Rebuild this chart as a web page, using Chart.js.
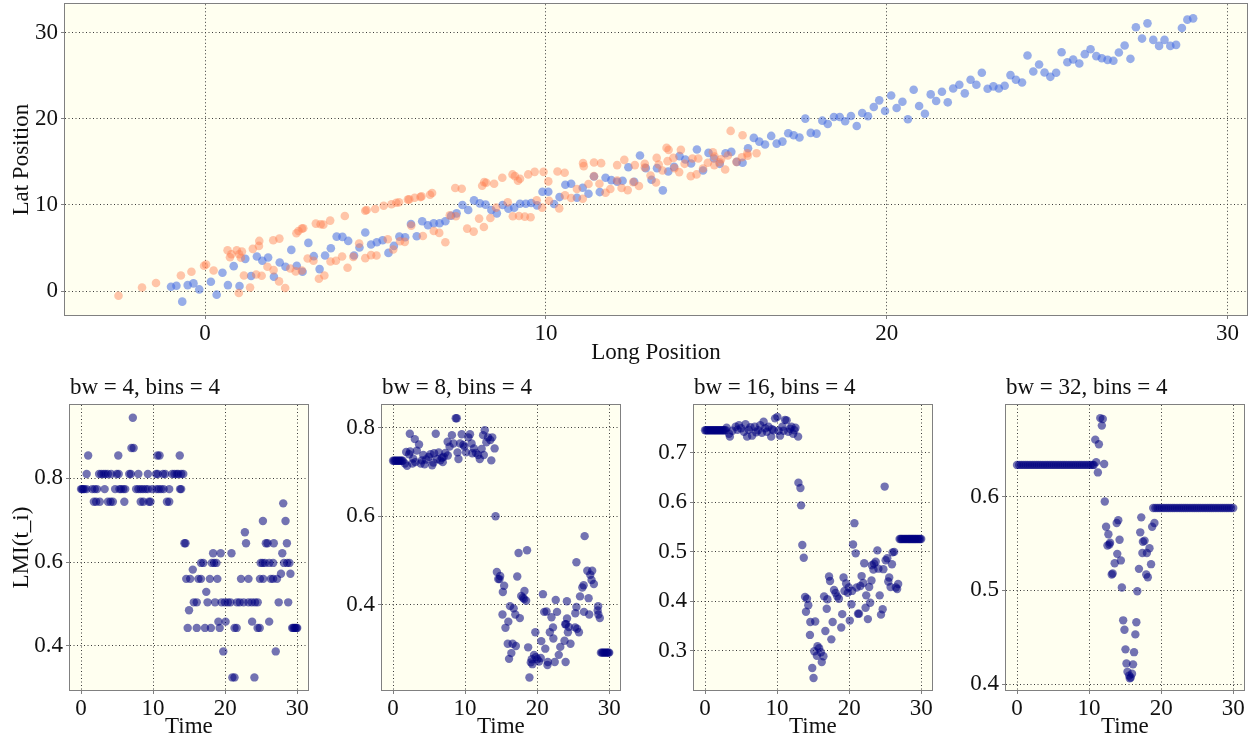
<!DOCTYPE html>
<html>
<head>
<meta charset="utf-8">
<script src="https://cdn.jsdelivr.net/npm/chart.js@4/dist/chart.umd.min.js"></script>
<style>
  html, body { margin: 0; padding: 0; background: #fff; }
  #wrap { position: relative; width: 1252px; height: 742px; overflow: hidden; }
  canvas { position: absolute; }
</style>
</head>
<body>
<div id="wrap">
  <canvas id="c-pos" width="1252" height="370" style="left:0;top:0"></canvas>
  <canvas id="c-bw4" width="312" height="372" style="left:0;top:370px"></canvas>
  <canvas id="c-bw8" width="312" height="372" style="left:312px;top:370px"></canvas>
  <canvas id="c-bw16" width="312" height="372" style="left:624px;top:370px"></canvas>
  <canvas id="c-bw32" width="312" height="372" style="left:936px;top:370px"></canvas>
</div>
<script>
// 上：两条轨迹的位置散点；下：不同 bw 下的 LMI(t_i) 随时间

const FONT = "'Liberation Serif', 'Times New Roman', serif";
const PLOT_BG = "#fffff0";
const FRAME = "#808080";
const GRID = "#3a3a3a";
const BLUE = "rgba(65,105,225,0.55)";
const SALMON = "rgba(255,127,80,0.45)";
const NAVY = "rgba(0,0,128,0.55)";

// ── 上图：位置 ──────────────────────────────────────────────
const posTicks = [0, 10, 20, 30];

const blueX = [
  -1.00, -0.84, -0.67, -0.51, -0.34, -0.17, 0.17, 0.34, 0.51, 0.67,
  0.84, 1.01, 1.18, 1.35, 1.52, 1.68, 1.85, 2.02, 2.19, 2.36,
  2.53, 2.69, 2.86, 3.03, 3.19, 3.36, 3.52, 3.69, 3.86, 4.03,
  4.20, 4.37, 4.53, 4.70, 4.87, 5.04, 5.21, 5.38, 5.54, 5.70,
  5.87, 6.04, 6.21, 6.37, 6.54, 6.71, 6.88, 7.05, 7.22, 7.38,
  7.55, 7.72, 7.89, 8.06, 8.23, 8.40, 8.56, 8.73, 8.90, 9.07,
  9.24, 9.41, 9.57, 9.74, 9.90, 10.07, 10.24, 10.40, 10.57, 10.74,
  10.91, 11.08, 11.25, 11.41, 11.58, 11.75, 11.92, 12.09, 12.25, 12.42,
  12.59, 12.76, 12.93, 13.10, 13.26, 13.43, 13.59, 13.76, 13.92, 14.09,
  14.26, 14.43, 14.61, 14.77, 14.93, 15.10, 15.27, 15.44, 15.60, 15.77,
  15.93, 16.10, 16.26, 16.43, 16.61, 16.77, 16.94, 17.11, 17.27, 17.44,
  17.61, 17.77, 17.94, 18.11, 18.27, 18.45, 18.62, 18.78, 18.95, 19.12,
  19.28, 19.45, 19.62, 19.78, 19.95, 20.13, 20.29, 20.46, 20.62, 20.79,
  20.95, 21.12, 21.29, 21.45, 21.62, 21.79, 21.95, 22.13, 22.29, 22.46,
  22.63, 22.79, 22.96, 23.13, 23.29, 23.46, 23.63, 23.79, 23.97, 24.13,
  24.30, 24.47, 24.63, 24.80, 24.97, 25.13, 25.30, 25.47, 25.65, 25.81,
  25.98, 26.15, 26.31, 26.48, 26.65, 26.81, 26.98, 27.15, 27.31, 27.49,
  27.65, 27.82, 27.99, 28.15, 28.32, 28.49, 28.66, 28.82, 28.99,
];
const blueY = [
  0.50, 0.62, -1.23, 0.69, 0.89, 0.19, 1.08, -0.42, 2.12, 0.69,
  2.89, 0.58, 3.74, 1.74, 4.01, 3.51, 3.90, 1.66, 3.32, 2.82,
  4.78, 2.93, 2.24, 5.59, 4.05, 2.55, 4.13, 4.97, 6.32, 6.29,
  5.82, 4.13, 5.05, 6.79, 5.40, 5.67, 5.90, 4.43, 5.24, 6.32,
  6.25, 7.79, 6.36, 8.10, 7.64, 7.87, 7.87, 8.10, 8.75, 9.02,
  9.99, 9.41, 10.53, 10.18, 10.03, 9.41, 9.02, 9.99, 9.56, 9.68,
  10.14, 10.14, 10.22, 9.95, 11.53, 11.53, 10.10, 10.91, 12.34, 12.46,
  10.84, 11.99, 11.30, 13.30, 11.49, 13.15, 12.88, 12.69, 12.80, 14.38,
  12.69, 15.73, 14.27, 12.92, 14.27, 11.69, 13.88, 14.42, 15.66, 15.27,
  14.81, 16.43, 14.00, 16.04, 15.39, 14.77, 16.00, 16.16, 15.00, 14.89,
  16.58, 17.78, 17.35, 17.01, 18.01, 17.12, 17.35, 18.32, 18.09, 17.82,
  20.02, 18.36, 18.28, 19.78, 19.40, 20.21, 20.21, 19.71, 20.32, 19.17,
  20.67, 20.29, 21.37, 22.14, 20.90, 22.71, 21.25, 21.98, 19.94, 23.37,
  21.48, 20.59, 22.83, 22.06, 23.14, 21.91, 23.52, 23.95, 22.95, 24.53,
  23.95, 25.34, 23.49, 23.76, 23.52, 23.83, 25.07, 24.53, 24.22, 27.34,
  25.49, 26.30, 25.38, 24.87, 25.34, 27.73, 26.57, 26.88, 26.42, 27.50,
  28.08, 27.27, 27.03, 26.84, 26.73, 27.69, 28.50, 26.96, 30.62, 29.31,
  31.08, 29.16, 28.46, 29.16, 28.46, 28.58, 30.54, 31.51, 31.66,
];

const salmonX = [
  -2.54, -1.85, -1.44, -0.71, -0.40, -0.03, 0.03, 0.25, 0.66, 0.73,
  0.77, 0.93, 1.00, 1.08, 1.05, 1.14, 0.99, 1.32, 1.40, 1.50,
  1.59, 1.58, 1.66, 1.83, 2.00, 2.01, 2.18, 2.17, 2.35, 2.50,
  2.66, 2.68, 2.74, 2.84, 2.88, 2.84, 3.01, 3.18, 3.25, 3.34,
  3.39, 3.47, 3.50, 3.67, 3.68, 3.84, 4.02, 4.10, 4.18, 4.35,
  4.52, 4.70, 4.70, 4.74, 4.87, 4.99, 5.03, 5.24, 5.36, 5.47,
  5.52, 5.61, 5.69, 5.72, 5.86, 5.95, 5.99, 6.05, 6.15, 6.32,
  6.35, 6.39, 6.60, 6.66, 6.71, 6.87, 7.05, 7.18, 7.36, 7.34,
  7.53, 7.69, 7.88, 8.04, 8.13, 8.19, 8.18, 8.25, 8.37, 8.48,
  8.54, 8.72, 8.88, 9.02, 9.09, 9.18, 9.24, 9.03, 9.21, 9.38,
  9.55, 9.48, 9.67, 9.73, 9.93, 9.89, 10.07, 10.09, 10.34, 10.39,
  10.55, 10.56, 10.74, 10.91, 11.08, 11.09, 11.11, 11.25, 11.41, 11.41,
  11.57, 11.62, 11.75, 11.89, 12.09, 12.09, 12.22, 12.30, 12.40, 12.56,
  12.61, 12.73, 12.90, 12.90, 13.07, 13.23, 13.25, 13.31, 13.42, 13.54,
  13.60, 13.57, 13.74, 13.77, 13.91, 13.96, 14.07, 14.25, 14.30, 14.42,
  14.47, 14.61, 14.75, 14.90, 14.95, 14.94, 15.10, 15.14, 15.26, 15.34,
  15.42, 15.59, 15.75, 15.77, 15.92, 15.91, 16.18,
];
const salmonY = [
  -0.54, 0.42, 0.93, 1.81, 2.24, 2.93, 3.09, 2.39, 4.74, 3.93,
  4.28, 4.74, 4.28, 4.59, 3.86, 1.81, -0.23, 0.42, 4.90, 1.93,
  5.82, 5.24, 1.77, 2.82, 5.90, 2.43, 6.09, 1.12, 0.35, 2.62,
  2.28, 6.71, 6.98, 7.25, 7.29, 2.39, 3.78, 3.51, 7.83, 1.43,
  7.75, 7.71, 1.81, 8.18, 3.43, 3.51, 4.01, 8.72, 2.70, 3.97,
  5.51, 9.33, 3.82, 9.41, 4.17, 9.53, 4.13, 9.91, 6.02, 10.07,
  4.82, 10.26, 10.30, 5.78, 5.71, 10.61, 10.64, 7.60, 10.84, 10.91,
  10.99, 6.40, 11.18, 11.38, 6.98, 6.75, 5.67, 8.79, 8.68, 11.96,
  11.88, 7.25, 6.90, 8.41, 12.23, 12.65, 7.44, 12.57, 8.48, 12.46,
  9.68, 13.15, 10.30, 13.54, 13.34, 12.80, 13.04, 8.68, 8.72, 8.64,
  8.56, 13.54, 13.84, 10.53, 13.84, 9.68, 12.73, 10.49, 13.88, 9.60,
  13.73, 11.11, 10.80, 11.84, 10.72, 14.85, 14.50, 12.42, 14.92, 13.34,
  12.46, 14.85, 11.42, 11.84, 14.62, 12.84, 11.96, 15.23, 11.72, 12.65,
  14.62, 12.19, 14.77, 14.35, 13.42, 12.61, 15.46, 14.69, 14.00, 16.62,
  16.39, 15.08, 15.46, 14.27, 13.81, 16.39, 14.77, 13.34, 15.39, 13.54,
  15.39, 14.23, 14.89, 16.12, 15.62, 14.62, 14.96, 15.31, 14.11, 15.73,
  18.59, 15.00, 15.54, 18.09, 15.70, 16.00, 16.00,
];

// ── 下图：LMI(t_i) ──────────────────────────────────────────
const timeTicks = [0, 10, 20, 30];

// bw = 4：取值是离散的几档
const bw4Levels = [0.944, 0.872, 0.854, 0.810, 0.774, 0.744,
  0.740, 0.698, 0.671, 0.645, 0.621, 0.598, 0.582, 0.572, 0.560,
  0.529, 0.504, 0.485, 0.458, 0.443, 0.387, 0.325];
const bw4Times = [
  [7.19],
  [7.0, 7.3],
  [0.99, 5.17, 10.6, 10.9, 13.7],
  [0.78, 2.51, 2.82, 3.14, 3.41, 3.73, 4.19, 4.96, 5.23, 6.69, 6.92, 7.96, 9.28, 10.42, 10.65, 11.37, 11.69, 12.65, 12.96, 13.28, 13.5, 13.9, 14.19],
  [0, 0.15, 0.3, 0.46, 0.78, 1.55, 1.91, 2.23, 3.28, 4.73, 5.33, 5.55, 5.87, 6.14, 7.64, 7.96, 8.28, 8.6, 8.96, 9.28, 9.87, 10.46, 10.78, 11.1, 11.46, 12.24, 13.74, 13.9],
  [1.78, 2.1, 2.6, 3.73, 4.1, 4.42, 6.01, 8.28, 8.65, 9.42, 9.64, 11.92, 12.24],
  [28.06],
  [25.24, 28.38],
  [22.74],
  [14.35, 14.5, 22.9, 25.65, 25.88, 26.75, 28.57],
  [18.33, 19.38, 20.88, 27.93],
  [16.65, 16.97, 18.15, 18.47, 18.79, 24.93, 25.2, 25.52, 26.11, 26.66, 28.16, 28.61, 28.93],
  [15.51],
  [27.75, 29.06],
  [14.6, 15.15, 16.29, 16.65, 17.88, 18.92, 22.2, 23.24, 24.83, 25.29, 26.34, 26.66, 27.2],
  [17.38],
  [15.65, 16.06, 17.56, 18.6, 19.51, 19.97, 20.38, 20.74, 21.65, 22.02, 22.56, 23.24, 23.7, 24.15, 24.52, 27.43, 28.75],
  [14.99],
  [19.06, 20.06, 23.74, 26.11],
  [14.8, 16.06, 17.2, 18.02, 19.24, 21.3, 21.6, 24.5, 24.8, 29.3, 29.45, 29.6, 29.75, 29.9, 30.0],
  [19.74, 27.02],
  [21.0, 21.3, 24.06],
];
const bw4YTicks = [0.4, 0.6, 0.8];

// bw = 8
const bw8RunA = [0, 0.15, 0.3, 0.45, 0.6, 0.75, 0.9, 1.05, 1.2, 1.35];
const bw8RunALevel = 0.725;
const bw8RunB = [28.85, 29, 29.15, 29.3, 29.45, 29.6, 29.75, 29.9, 30];
const bw8RunBLevel = 0.292;
const bw8Pts = [
  [1.65, .719], [1.83, .745], [1.95, .714], [2.24, .740], [2.33, .786], [2.38, .746], [2.69, .719], [2.8, .730],
  [3.02, .774], [3.1, .722], [3.3, .748], [3.61, .762], [3.84, .719], [4.0, .726], [4.2, .738], [4.38, .717],
  [4.6, .728], [4.97, .734], [5.2, .740], [5.43, .715], [5.6, .721], [5.7, .742], [5.93, .786], [6.11, .729],
  [6.34, .744], [6.57, .726], [6.8, .732], [6.9, .722], [7.03, .734], [7.26, .743], [7.58, .768], [7.6, .737],
  [7.85, .757], [8.17, .783], [8.39, .764], [8.7, .821], [8.85, .821], [8.95, .744], [9.08, .729], [9.31, .764],
  [9.53, .785], [9.76, .761], [9.9, .757], [10.13, .744], [10.45, .778], [10.68, .785], [10.9, .764], [11.0, .742],
  [11.22, .753], [11.5, .743], [11.81, .738], [12.04, .729], [12.3, .752], [12.5, .783], [12.6, .738], [12.73, .794],
  [12.95, .767], [13.18, .778], [13.5, .772], [13.64, .726], [13.77, .778], [14.1, .753],
  [14.23, .600], [14.41, .474], [14.6, .458], [14.78, .458], [14.87, .465], [15.19, .378], [15.24, .429], [15.42, .443],
  [15.6, .348], [15.92, .312], [16.0, .362], [16.1, .278], [16.24, .397], [16.42, .291], [16.6, .312], [16.74, .392],
  [16.97, .378], [17.05, .307], [17.24, .464], [17.42, .517], [17.6, .370], [17.79, .420], [18.02, .416], [18.2, .413],
  [18.24, .431], [18.47, .409], [18.6, .523], [18.75, .304], [18.93, .236], [19.12, .270], [19.25, .277], [19.34, .266],
  [19.57, .287], [19.75, .338], [19.8, .282], [20.03, .277], [20.26, .272], [20.5, .280], [20.57, .318], [20.8, .424],
  [20.98, .384], [21.13, .301], [21.3, .385], [21.43, .264], [21.48, .271], [21.76, .338], [21.99, .372], [22.2, .349],
  [22.25, .324], [22.44, .271], [22.58, .411], [22.76, .384], [23.0, .287], [23.21, .305], [23.8, .319], [23.9, .356],
  [23.95, .271], [24.0, .356], [24.13, .408], [24.15, .369], [24.27, .338], [24.4, .350], [24.63, .312], [25.26, .349],
  [25.3, .381], [25.45, .395], [25.45, .496], [25.54, .346], [25.8, .338], [25.95, .419], [26.27, .439], [26.45, .444],
  [26.5, .384], [26.59, .555], [26.96, .477], [27.14, .415], [27.23, .378], [27.37, .468], [27.55, .456], [27.64, .477],
  [27.87, .447], [28.4, .387], [28.46, .397], [28.5, .378], [28.7, .370],
];
const bw8YTicks = [0.4, 0.6, 0.8];

// bw = 16
const bw16RunA = [0, 0.15, 0.3, 0.45, 0.6, 0.75, 0.9, 1.05, 1.2, 1.35, 1.5, 1.65, 1.8, 1.95, 2.1, 2.25, 2.4, 2.55, 2.7, 2.85];
const bw16RunALevel = 0.746;
const bw16RunB = [27, 27.15, 27.3, 27.45, 27.6, 27.75, 27.9, 28.05, 28.2, 28.35, 28.5, 28.65, 28.8, 28.95, 29.1, 29.25, 29.4, 29.55, 29.7, 29.85, 30];
const bw16RunBLevel = 0.526;
const bw16Pts = [
  [3.0, .751], [3.33, .739], [3.45, .733], [3.8, .745], [4.25, .753], [4.5, .747], [4.71, .756], [5.0, .750],
  [5.39, .743], [5.62, .758], [5.84, .733], [6.07, .747], [6.3, .752], [6.53, .735], [6.9, .753], [7.1, .742],
  [7.35, .746], [7.67, .756], [7.9, .741], [8.13, .763], [8.35, .750], [8.58, .743], [8.81, .753], [9.18, .733],
  [9.3, .748], [9.5, .746], [9.72, .770], [10.04, .773], [10.2, .745], [10.41, .735], [10.73, .753], [10.9, .745],
  [11.1, .767], [11.32, .766], [11.55, .743], [11.8, .749], [12.0, .753], [12.23, .739], [12.4, .746], [12.55, .751],
  [12.92, .733],
  [12.96, .640], [13.24, .629], [13.33, .594], [13.5, .514], [13.7, .488], [13.88, .409], [14.01, .379], [14.15, .405],
  [14.33, .392], [14.56, .332], [14.61, .358], [14.88, .265], [15.06, .245], [15.16, .299], [15.29, .359], [15.52, .290],
  [15.61, .309], [15.84, .305], [16.07, .297], [16.2, .277], [16.43, .289], [16.52, .410], [16.7, .340], [16.89, .385],
  [16.98, .404], [17.21, .450], [17.35, .441], [17.53, .323], [17.71, .358], [17.9, .423], [18.12, .417], [18.35, .410],
  [18.58, .405], [18.9, .347], [19.04, .374], [19.22, .448], [19.35, .421], [19.58, .436], [19.8, .417], [19.95, .428],
  [20.09, .361], [20.32, .394], [20.41, .421], [20.54, .515], [20.73, .558], [20.91, .497], [21.05, .428], [21.23, .375],
  [21.37, .375], [21.55, .431], [21.73, .451], [21.96, .437], [22.09, .477], [22.28, .387], [22.37, .412], [22.6, .364],
  [22.78, .429], [22.92, .397], [23.1, .442], [23.15, .473], [23.37, .464], [23.46, .476], [23.69, .480], [23.92, .503],
  [24.06, .466], [24.24, .412], [24.42, .373], [24.65, .384], [24.75, .465], [24.93, .632], [25.07, .483], [25.29, .487],
  [25.43, .440], [25.56, .448], [25.75, .429], [25.94, .475], [26.02, .499], [26.25, .500], [26.48, .428], [26.66, .425],
  [26.8, .435],
];
const bw16YTicks = [0.3, 0.4, 0.5, 0.6, 0.7];

// bw = 32
const bw32RunA = [0, 0.3, 0.6, 0.9, 1.2, 1.5, 1.8, 2.1, 2.4, 2.7, 3, 3.3, 3.6, 3.9, 4.2, 4.5, 4.8, 5.1, 5.4, 5.7,
  6, 6.3, 6.6, 6.9, 7.2, 7.5, 7.8, 8.1, 8.4, 8.7, 9, 9.3, 9.6, 9.9, 10.2, 10.5, 10.65];
const bw32RunALevel = 0.634;
const bw32RunB = [18.9, 19.2, 19.5, 19.8, 20.1, 20.4, 20.7, 21, 21.3, 21.6, 21.9, 22.2, 22.5, 22.8, 23.1, 23.4, 23.7, 24, 24.3,
  24.6, 24.9, 25.2, 25.5, 25.8, 26.1, 26.4, 26.7, 27, 27.3, 27.6, 27.9, 28.2, 28.5, 28.8, 29.1, 29.4, 29.7, 30];
const bw32RunBLevel = 0.588;
const bw32Pts = [
  [10.86, .661], [10.99, .637], [11.22, .626], [11.36, .656], [11.55, .684], [11.77, .676], [11.9, .683], [12.09, .635],
  [12.18, .595], [12.36, .568], [12.55, .548], [12.68, .560], [12.82, .549], [12.91, .551], [13.14, .517], [13.27, .518],
  [13.55, .529], [13.83, .572], [13.91, .539], [14.05, .575], [14.23, .554], [14.41, .532], [14.55, .503], [14.73, .468],
  [14.91, .458], [15.05, .437], [15.19, .422], [15.33, .413], [15.56, .409], [15.65, .406], [15.78, .407], [15.96, .411],
  [16.1, .421], [16.24, .434], [16.42, .453], [16.56, .466], [16.69, .499], [16.92, .523], [17.1, .562], [17.24, .578],
  [17.4, .540], [17.47, .552], [17.7, .553], [17.93, .517], [18.02, .540], [18.15, .514], [18.38, .545], [18.6, .528],
  [18.75, .568], [19.07, .572],
];
const bw32YTicks = [0.4, 0.5, 0.6];

// ── 工具 ──────────────────────────────────────────────────
const xy = (xs, ys) => xs.map((x, i) => ({ x, y: ys[i] }));
const run = (ts, level) => ts.map(t => ({ x: t, y: level }));
const pairs = ps => ps.map(([x, y]) => ({ x, y }));

Chart.defaults.font.family = FONT;
Chart.defaults.font.size = 23;
Chart.defaults.color = "#111";
Chart.defaults.animation = false;
Chart.defaults.plugins.legend.display = false;
Chart.defaults.plugins.tooltip.enabled = false;

// 背景 + 灰色外框 + 左对齐小标题
const plotFrame = {
  id: "plotFrame",
  beforeDraw(chart) {
    const { ctx, chartArea: a } = chart;
    ctx.save();
    ctx.fillStyle = PLOT_BG;
    ctx.fillRect(a.left, a.top, a.width, a.height);
    ctx.restore();
  },
  afterDraw(chart, args, opts) {
    const { ctx, chartArea: a } = chart;
    ctx.save();
    ctx.strokeStyle = FRAME;
    ctx.lineWidth = 1;
    ctx.strokeRect(Math.round(a.left) - 0.5, Math.round(a.top) - 0.5, Math.round(a.width) + 1, Math.round(a.height) + 1);
    if (opts.title) {
      ctx.fillStyle = "#111";
      ctx.font = `23px ${FONT}`;
      ctx.textAlign = "left";
      ctx.textBaseline = "alphabetic";
      ctx.fillText(opts.title, a.left, a.top - 11);
    }
    ctx.restore();
  },
};

function axis(min, max, ticks, size, isX, fmt, title, titlePad, tickPad) {
  return {
    type: "linear", min, max,
    afterBuildTicks: s => { s.ticks = ticks.map(value => ({ value })); },
    afterFit: s => {
      if (isX) s.height = size; else s.width = size;
      // 刻度标签都在图内，不需要额外留边
      s.paddingTop = s.paddingBottom = s.paddingLeft = s.paddingRight = 0;
    },
    grid: { color: GRID, lineWidth: 1, drawTicks: true, tickLength: 4, tickColor: FRAME, tickWidth: 1, tickBorderDash: [] },
    border: { display: false, dash: [1, 2.5] },
    ticks: { padding: tickPad, maxRotation: 0, autoSkip: false, color: "#111", callback: v => fmt(v) },
    title: { display: !!title, text: title || "", padding: titlePad, color: "#111" },
  };
}

function dot(data, color, r) {
  return { data, showLine: false, pointRadius: r, pointHoverRadius: r, pointBorderWidth: 0,
    pointBackgroundColor: color, backgroundColor: color, borderWidth: 0 };
}

// ── 上图 ──
new Chart(document.getElementById("c-pos"), {
  type: "scatter",
  data: { datasets: [dot(xy(salmonX, salmonY), SALMON, 4.3), dot(xy(blueX, blueY), BLUE, 4.3)] },
  options: {
    responsive: false, devicePixelRatio: 1,
    layout: { padding: { left: 0, top: 3, right: 5, bottom: 0 } },
    scales: {
      x: axis(-4.11, 30.57, posTicks, 55, true, v => String(v), "Long Position", { top: 0, bottom: 3 }, 1),
      y: axis(-2.78, 33.29, posTicks, 65, false, v => String(v), "Lat Position", { top: 8, bottom: 0 }, 3),
    },
    plugins: { plotFrame: {} },
  },
  plugins: [plotFrame],
});

// ── 下图 ──
function lmiChart(id, title, data, yMin, yMax, yTicks, yTitle) {
  new Chart(document.getElementById(id), {
    type: "scatter",
    data: { datasets: [dot(data, NAVY, 4.2)] },
    options: {
      responsive: false, devicePixelRatio: 1,
      layout: { padding: { left: 0, top: 35, right: 1, bottom: 0 } },
      scales: {
        x: axis(-1.53, 31.47, timeTicks, 52, true, v => String(v), "Time", { top: 0, bottom: 1 }, 1),
        y: axis(yMin, yMax, yTicks, 70, false, v => v.toFixed(1), yTitle, { top: 8, bottom: 0 }, 3),
      },
      plugins: { plotFrame: { title } },
    },
    plugins: [plotFrame],
  });
}

const bw4Data = bw4Levels.flatMap((lv, i) => run(bw4Times[i], lv));
const bw8Data = [...run(bw8RunA, bw8RunALevel), ...pairs(bw8Pts), ...run(bw8RunB, bw8RunBLevel)];
const bw16Data = [...run(bw16RunA, bw16RunALevel), ...pairs(bw16Pts), ...run(bw16RunB, bw16RunBLevel)];
const bw32Data = [...run(bw32RunA, bw32RunALevel), ...pairs(bw32Pts), ...run(bw32RunB, bw32RunBLevel)];

lmiChart("c-bw4", "bw = 4, bins = 4", bw4Data, 0.295, 0.9745, bw4YTicks, "LMI(t_i)");
lmiChart("c-bw8", "bw = 8, bins = 4", bw8Data, 0.2077, 0.851, bw8YTicks, "");
lmiChart("c-bw16", "bw = 16, bins = 4", bw16Data, 0.2206, 0.797, bw16YTicks, "");
lmiChart("c-bw32", "bw = 32, bins = 4", bw32Data, 0.3936, 0.698, bw32YTicks, "");
</script>
</body>
</html>
